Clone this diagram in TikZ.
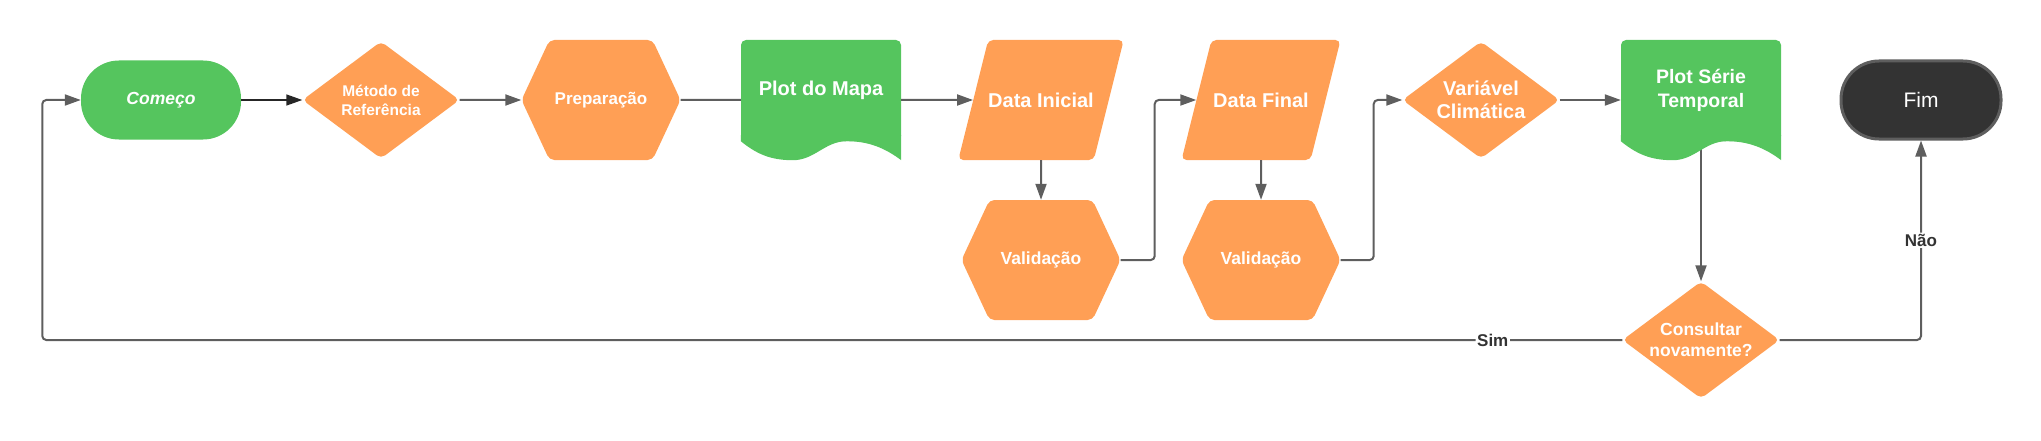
\documentclass[tikz,border=0pt]{standalone}
\usepackage{fontspec}
\setmainfont{Liberation Sans}
\usetikzlibrary{positioning,shapes.geometric,shapes.symbols,arrows.meta}

\definecolor{boxorange}{HTML}{FF9F55}
\definecolor{boxgreen}{HTML}{55C55E}
\definecolor{endgray}{HTML}{333333}
\definecolor{linegray}{HTML}{5E5E5E}

\tikzset{
  base/.style={text=white, inner sep=0pt, align=center},
  terminal/.style={base, rectangle, rounded corners=38pt, minimum width=160pt, minimum height=79pt},
  decision/.style={base, diamond, aspect=1.34, fill=boxorange, rounded corners=5pt, minimum width=157pt, minimum height=117pt},
  prepare/.style={base, signal, signal to=west and east, signal pointer angle=130, fill=boxorange, rounded corners=5pt, minimum width=159pt, minimum height=120pt},
  inout/.style={base, trapezium, trapezium left angle=76, trapezium right angle=104, trapezium stretches body, fill=boxorange, rounded corners=5pt, text height=14pt, text depth=0pt, inner ysep=53pt, minimum width=159pt},
  document/.style={base, rectangle, fill=boxgreen, rounded corners=5pt, minimum width=160pt, minimum height=101pt},
  flow/.style={->, draw=linegray, line width=2pt, rounded corners=4pt},
  answer/.style={fill=white, text=endgray, inner sep=1.5pt, font=\bfseries\fontsize{17}{20}\selectfont}
}

% wavy bottom of a document box
\newcommand{\docwave}[1]{%
  \fill[boxgreen] ([yshift=6pt]#1.south west) -- (#1.south west)
    .. controls +(16pt,-13pt) and +(-22pt,0pt) .. ([xshift=52pt,yshift=-19pt]#1.south west)
    .. controls +(22pt,0pt) and +(-22pt,0pt) .. ([xshift=106pt]#1.south west)
    .. controls +(22pt,0pt) and +(-16pt,12pt) .. ([yshift=-19pt]#1.south east)
    -- ([yshift=6pt]#1.south east) -- cycle;}

\begin{document}
\begin{tikzpicture}[node distance=220pt, >={Triangle[length=16pt,width=11pt]}]
  \useasboundingbox (0,0) rectangle (2041pt,-441pt);

  % main row
  \node [terminal, fill=boxgreen, font=\bfseries\itshape\fontsize{17.5}{21}\selectfont] (comeco) at (161pt,-100pt) {Começo};
  \node [decision, right of=comeco, font=\bfseries\fontsize{15.5}{19}\selectfont] (metodo) {Método de\\Referência};
  \node [prepare, right of=metodo, font=\bfseries\fontsize{17}{20}\selectfont] (prep) {Preparação};
  \node [document, right of=prep, yshift=9.5pt, font=\bfseries\fontsize{20}{24}\selectfont] (mapa) {Plot do Mapa};
  \node [inout, right of=mapa, yshift=-9.5pt, font=\bfseries\fontsize{20}{24}\selectfont] (dataini) {Data Inicial};
  \node [inout, right of=dataini, font=\bfseries\fontsize{20}{24}\selectfont] (datafim) {Data Final};
  \node [decision, right of=datafim, font=\bfseries\fontsize{20}{23}\selectfont] (variavel) {Variável\\Climática};
  \node [document, right of=variavel, yshift=9.5pt, font=\bfseries\fontsize{19.5}{24}\selectfont] (serie) {Plot Série\\Temporal};
  \node [terminal, right of=serie, yshift=-9.5pt, fill=endgray, draw=linegray, line width=3pt, minimum width=160pt, minimum height=78pt, font=\fontsize{21}{25}\selectfont] (fim) {Fim};

  % checks and question
  \node [prepare, below of=dataini, node distance=160pt, font=\bfseries\fontsize{17.5}{21}\selectfont] (valini) {Validação};
  \node [prepare, below of=datafim, node distance=160pt, font=\bfseries\fontsize{17.5}{21}\selectfont] (valfim) {Validação};
  \node [decision, below of=serie, node distance=249.5pt, font=\bfseries\fontsize{17.5}{21}\selectfont] (consulta) {Consultar\\novamente?};

  % connectors
  \draw [flow, draw=black!85, line width=1.5pt] (comeco) -- (metodo);
  \draw [flow] (metodo) -- (prep);
  \draw [flow, -] (prep) -- (prep -| mapa.west);
  \draw [flow] (mapa.east |- dataini) -- (dataini);
  \draw [flow] (dataini) -- (valini);
  \draw [flow] (valini.east) -- ++(34pt,0) |- (datafim);
  \draw [flow] (datafim) -- (valfim);
  \draw [flow] (valfim.east) -- ++(33pt,0) |- (variavel);
  \draw [flow] (variavel) -- (serie.west |- variavel);
  \draw [flow] (serie.south) -- (consulta);
  \draw [flow] (consulta) -| node [answer, pos=0.75] {Não} (fim);
  \draw [flow] (consulta.west) -- node [answer, pos=0.082] {Sim} ++(-1580pt,0) |- (comeco);

  \docwave{mapa}
  \docwave{serie}
\end{tikzpicture}
\end{document}
